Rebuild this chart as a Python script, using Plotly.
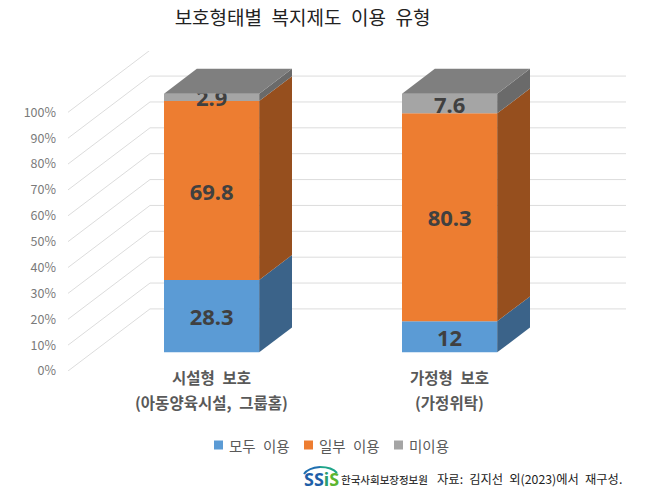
"""Pseudo 3D 100% stacked bars: welfare use type by protection type."""

import plotly.graph_objects as go

CATEGORIES = [0, 1]
CAT_LINE1 = ["시설형\u2002보호", "가정형\u2002보호"]
CAT_LINE2 = ["(아동양육시설,\u2002그룹홈)", "(가정위탁)"]
SERIES = ["모두\u2002이용", "일부\u2002이용", "미이용"]
ALL_USE = [28.3, 12]
SOME_USE = [69.8, 80.3]
NO_USE = [2.9, 7.6]
FRONT = ["#5b9bd5", "#ed7d31", "#a5a5a5"]
SIDE = ["#3b6389", "#964f1e", "#6a6a6a"]
TOP = "#7f7f7f"
TICKS = list(range(0, 101, 10))
TICK_LABELS = [f"{t}%" for t in TICKS]
LEGEND_LEFT = [214, 304, 394]

DEPTH_X = 0.3445
DEPTH_Y = 24.0
BAR_W = 0.4
BAR_D0, BAR_D1 = 0.3, 0.7
FONT = "Noto Sans CJK KR"


def project(x, v, d):
    """Front-plane axis coordinates of a point at depth d (0 front, 1 back)."""
    return x + d * DEPTH_X, v + d * DEPTH_Y


def paper(px, py):
    """Paper coordinates of a page pixel."""
    return (px - 68) / 558, (371 - py) / 320


def add_face(pts, color):
    xy = [project(*p) for p in pts]
    xy.append(xy[0])
    fig.add_trace(go.Scatter(
        x=[p[0] for p in xy], y=[p[1] for p in xy],
        mode="lines", fill="toself", fillcolor=color, line_width=0,
        showlegend=False, hoverinfo="skip",
    ))


fig = go.Figure()

# wall and floor grid
for t in TICKS:
    x0, y0 = project(-0.5, t, 0)
    x1, y1 = project(-0.5, t, 1)
    x2, y2 = project(1.5, t, 1)
    for a, b, c, d in [(x0, y0, x1, y1), (x1, y1, x2, y2)]:
        fig.add_shape(type="line", x0=a, y0=b, x1=c, y1=d, layer="below",
                      line=dict(color="#dcdcdc", width=1))

rows = [ALL_USE, SOME_USE, NO_USE]
totals = [sum(r[i] for r in rows) for i in CATEGORIES]
bottoms = [0.0 for _ in CATEGORIES]

for s, vals in enumerate(rows):
    heights = [100 * v / tot for v, tot in zip(vals, totals)]
    centers = [project(i, 0, BAR_D0)[0] for i in CATEGORIES]
    base = [project(i, b, BAR_D0)[1] for i, b in zip(CATEGORIES, bottoms)]
    fig.add_trace(go.Bar(
        x=centers, y=heights, base=base, width=BAR_W, name=SERIES[s],
        marker=dict(color=FRONT[s], line_width=0),
        text=[f"{v:g}" for v in vals], textposition="inside",
        insidetextanchor="middle", constraintext="none", textangle=0,
        insidetextfont=dict(family="Noto Sans", size=22, color="#404040", weight=700),
        hoverinfo="skip", showlegend=False,
    ))
    # right side face of each segment
    for i, b, h in zip(CATEGORIES, bottoms, heights):
        xr = i + BAR_W / 2
        add_face([(xr, b, BAR_D0), (xr, b, BAR_D1), (xr, b + h, BAR_D1), (xr, b + h, BAR_D0)], SIDE[s])
    bottoms = [b + h for b, h in zip(bottoms, heights)]

# top face
for i, b in zip(CATEGORIES, bottoms):
    xl, xr = i - BAR_W / 2, i + BAR_W / 2
    add_face([(xl, b, BAR_D0), (xr, b, BAR_D0), (xr, b, BAR_D1), (xl, b, BAR_D1)], TOP)

# category labels sit under the bars, two lines with wide leading
for i in CATEGORIES:
    xc = project(i, 0, BAR_D0)[0]
    for line, shift in [(CAT_LINE1[i], -6), (CAT_LINE2[i], -31)]:
        fig.add_annotation(x=xc, y=0, text=line, showarrow=False, yshift=shift,
                           font=dict(family=FONT, size=15.5, color="#595959", weight=700))

# legend row: small squares close to the text, tighter than the built-in legend allows
for name, left, color in zip(SERIES, LEGEND_LEFT, FRONT):
    x0, y0 = paper(left, 440.5)
    x1, y1 = paper(left + 9, 449.5)
    fig.add_shape(type="rect", xref="paper", yref="paper", x0=x0, y0=y0, x1=x1, y1=y1,
                  fillcolor=color, line_width=0)
    tx, ty = paper(left + 13, 445)
    fig.add_annotation(xref="paper", yref="paper", x=tx, y=ty, xanchor="left", yanchor="middle",
                       text=name, showarrow=False, font=dict(family=FONT, size=14.5, color="#595959"))

# source line with logo
for text, px, size, weight, color in [
    ("한국사회보장정보원", 339, 10.5, 500, "#333333"),
    ("자료:\u2002김지선\u2002외(2023)에서\u2002재구성.", 435, 12.3, 400, "#222222"),
]:
    tx, ty = paper(px, 479)
    fig.add_annotation(xref="paper", yref="paper", xanchor="left", yanchor="middle", showarrow=False,
                       x=tx, y=ty, text=text, font=dict(family=FONT, size=size, color=color, weight=weight))
tx, ty = paper(302, 479)
fig.add_annotation(xref="paper", yref="paper", xanchor="left", yanchor="middle", showarrow=False,
                   x=tx, y=ty,
                   text='<span style="color:#1f5fa8">SS</span><span style="color:#2a9d6f">i</span>'
                        '<span style="color:#5cb531">S</span>',
                   font=dict(family="Noto Sans", size=18, weight=700))
for (p0, p1, p2), color in [
    (((304, 474), (308, 468), (320, 467)), "#1f6fb0"),
    (((320, 467), (332, 467), (337, 473)), "#1fa58a"),
]:
    a, b, c = paper(*p0), paper(*p1), paper(*p2)
    fig.add_shape(type="path", xref="paper", yref="paper",
                  path=f"M {a[0]},{a[1]} Q {b[0]},{b[1]} {c[0]},{c[1]}",
                  line=dict(color=color, width=2))

fig.update_layout(
    width=658, height=497,
    margin=dict(l=68, r=32, t=51, b=126),
    paper_bgcolor="white", plot_bgcolor="white",
    barmode="overlay",
    showlegend=False,
    title=dict(text="보호형태별\u2002복지제도\u2002이용\u2002유형", x=302.5 / 658, xanchor="center",
               y=1 - 18 / 497, yanchor="middle",
               font=dict(family=FONT, size=19, color="#222222")),
    xaxis=dict(range=[-0.5, 1.5 + DEPTH_X], visible=False, fixedrange=True),
    yaxis=dict(range=[0, 123.7], tickmode="array", tickvals=TICKS, ticktext=TICK_LABELS,
               showgrid=False, zeroline=False, showline=False, ticks="", ticklabelstandoff=11,
               fixedrange=True, tickfont=dict(family=FONT, size=12.5, color="#7a7a7a")),
)

fig.write_html("out.html", config={"displayModeBar": False},
               post_script="document.body.style.margin='0'")
